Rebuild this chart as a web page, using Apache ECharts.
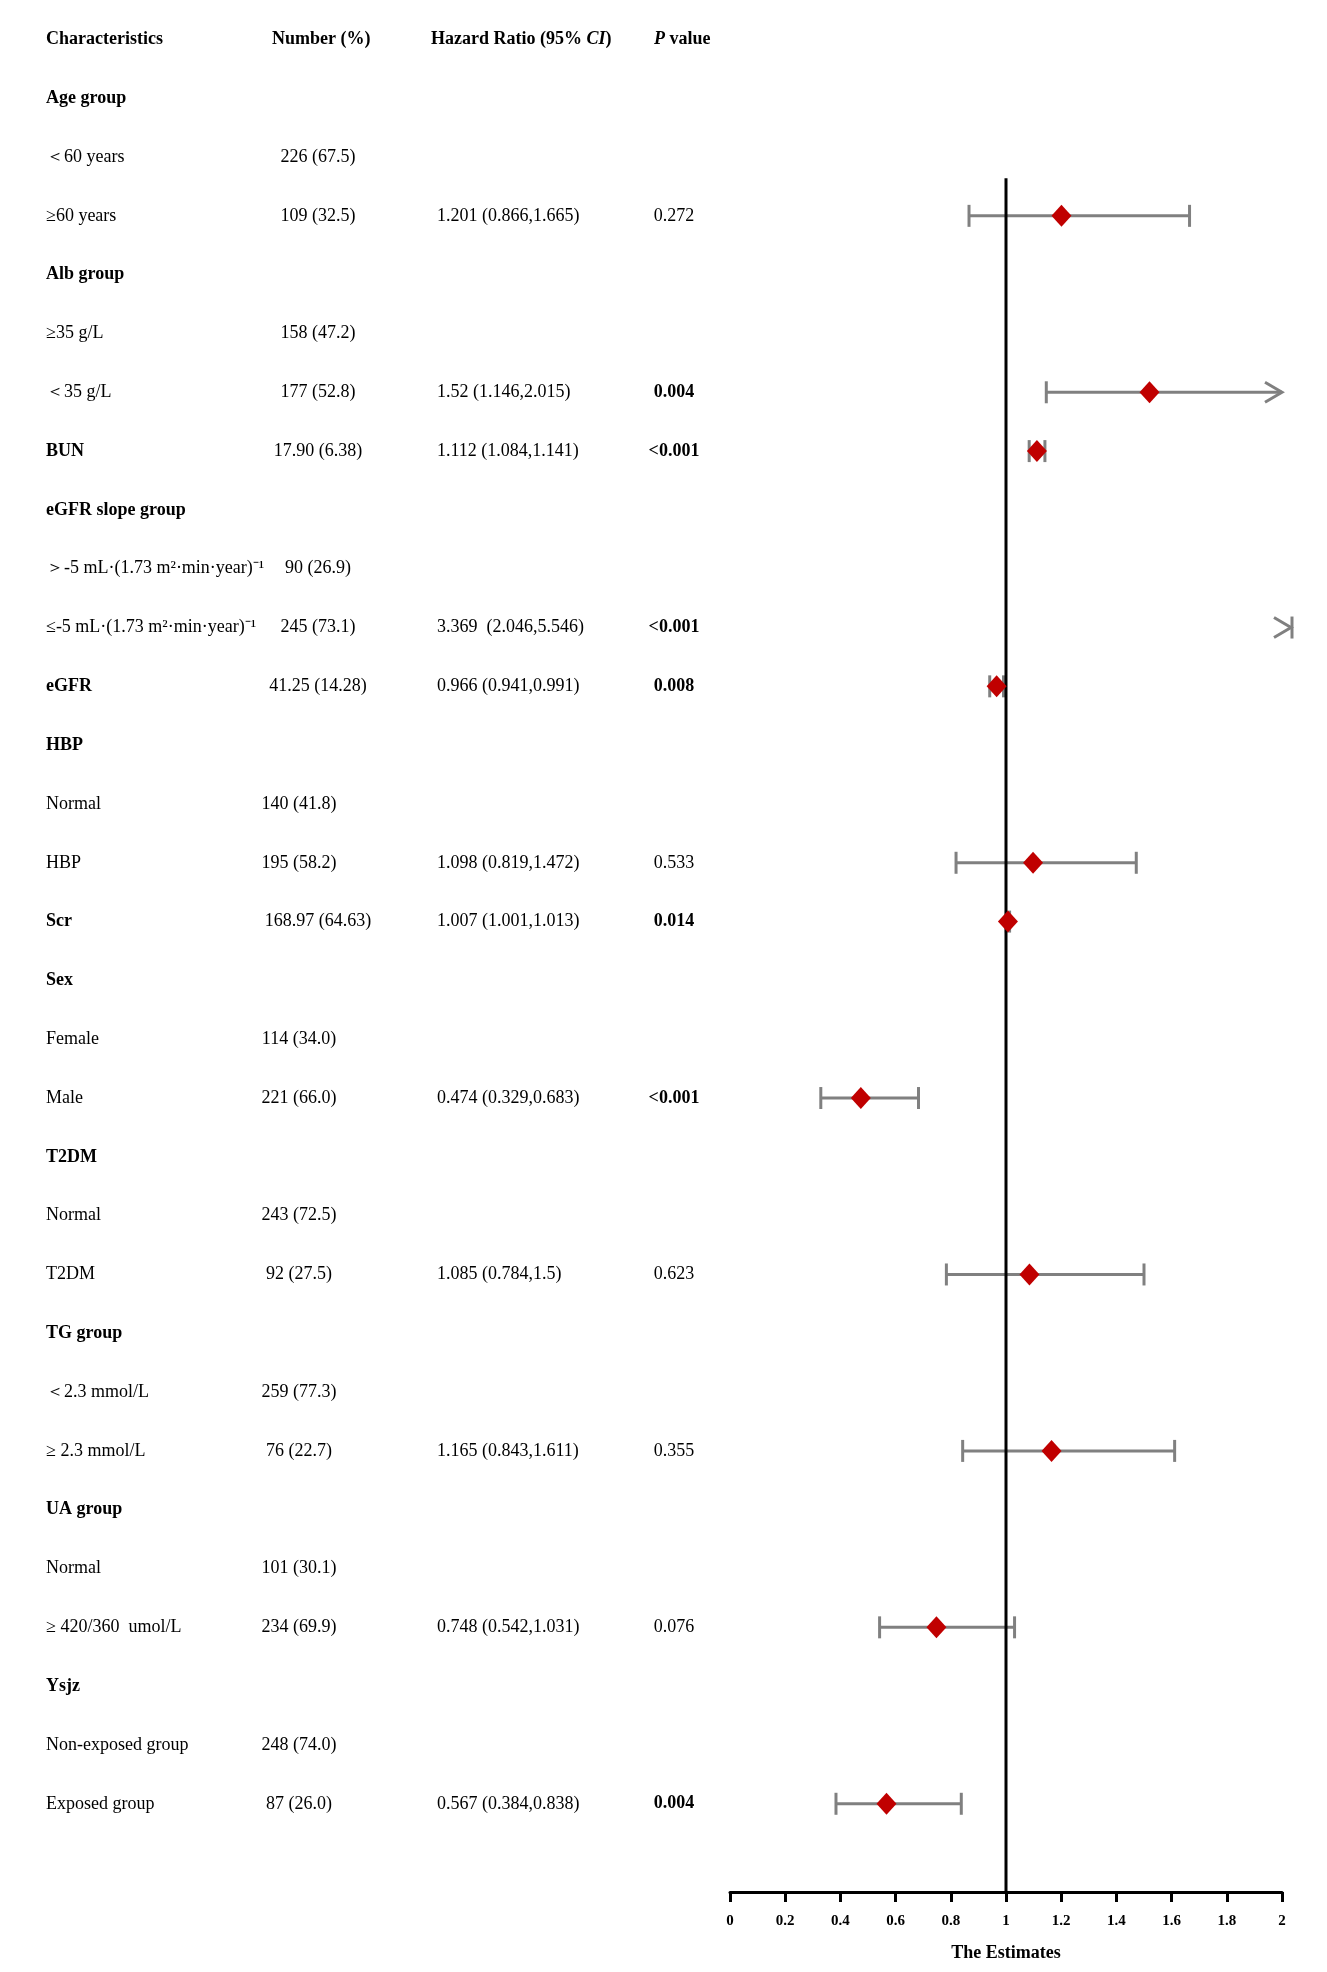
<!DOCTYPE html>
<html>
<head>
<meta charset="utf-8">
<script src="https://cdn.jsdelivr.net/npm/echarts@6/dist/echarts.min.js"></script>
<style>
  html, body { margin: 0; padding: 0; background: #fff; }
  #main { width: 1327px; height: 1972px; }
</style>
</head>
<body>
<div id="main"></div>
<script>
// table rows (header row sits above these)
const rowLabels = [
  'Age group', '＜60 years', '≥60 years',
  'Alb group', '≥35 g/L', '＜35 g/L',
  'BUN',
  'eGFR slope group', '＞-5 mL·(1.73 m²·min·year)⁻¹', '≤-5 mL·(1.73 m²·min·year)⁻¹',
  'eGFR',
  'HBP', 'Normal', 'HBP',
  'Scr',
  'Sex', 'Female', 'Male',
  'T2DM', 'Normal', 'T2DM',
  'TG group', '＜2.3 mmol/L', '≥ 2.3 mmol/L',
  'UA group', 'Normal', '≥ 420/360  umol/L',
  'Ysjz', 'Non-exposed group', 'Exposed group'
];
const groupRows = [1,0,0, 1,0,0, 1, 1,0,0, 1, 1,0,0, 1, 1,0,0, 1,0,0, 1,0,0, 1,0,0, 1,0,0];
const numbers = [
  '', '226 (67.5)', '109 (32.5)',
  '', '158 (47.2)', '177 (52.8)',
  '17.90 (6.38)',
  '', '90 (26.9)', '245 (73.1)',
  '41.25 (14.28)',
  '', '140 (41.8)', '195 (58.2)',
  '168.97 (64.63)',
  '', '114 (34.0)', '221 (66.0)',
  '', '243 (72.5)', '92 (27.5)',
  '', '259 (77.3)', '76 (22.7)',
  '', '101 (30.1)', '234 (69.9)',
  '', '248 (74.0)', '87 (26.0)'
];
const hr = [
  null, null, 1.201, null, null, 1.52, 1.112, null, null, 3.369, 0.966, null, null, 1.098, 1.007,
  null, null, 0.474, null, null, 1.085, null, null, 1.165, null, null, 0.748, null, null, 0.567
];
const ciLow = [
  null, null, 0.866, null, null, 1.146, 1.084, null, null, 2.046, 0.941, null, null, 0.819, 1.001,
  null, null, 0.329, null, null, 0.784, null, null, 0.843, null, null, 0.542, null, null, 0.384
];
const ciHigh = [
  null, null, 1.665, null, null, 2.015, 1.141, null, null, 5.546, 0.991, null, null, 1.472, 1.013,
  null, null, 0.683, null, null, 1.5, null, null, 1.611, null, null, 1.031, null, null, 0.838
];
const pValues = [
  '', '', '0.272', '', '', '0.004', '<0.001', '', '', '<0.001', '0.008', '', '', '0.533', '0.014',
  '', '', '<0.001', '', '', '0.623', '', '', '0.355', '', '', '0.076', '', '', '0.004'
];
const xTicks = { min: 0, max: 2, interval: 0.2 };

const FONT = 'Liberation Serif';
const AXIS_MAX = 2;
const REF_TOP = 2.36;   // where the reference line at 1 starts (row units)

const chart = echarts.init(document.getElementById('main'), null, { renderer: 'canvas' });

function isSignificant(p) {
  return p !== '' && (p.charAt(0) === '<' || parseFloat(p) < 0.05);
}

// one text column, x is pixel position inside the full-width text grid
function textColumn(texts, xOf, align, boldOf) {
  return {
    type: 'custom',
    xAxisIndex: 0,
    yAxisIndex: 0,
    silent: true,
    data: texts.map((t, i) => [xOf(i), i + 1]),
    renderItem: function (params, api) {
      const i = params.dataIndex;
      const p = api.coord([api.value(0), api.value(1)]);
      return {
        type: 'text',
        x: p[0],
        y: p[1],
        style: {
          text: texts[i],
          fill: '#000',
          fontFamily: FONT,
          fontSize: 18,
          fontWeight: boldOf(i) ? 'bold' : 'normal',
          align: align,
          verticalAlign: 'middle'
        }
      };
    }
  };
}

const headerCells = [
  { x: 46, text: 'Characteristics' },
  { x: 272, text: 'Number (%)' },
  { x: 431, text: 'Hazard Ratio (95% {i|CI})' },
  { x: 654, text: '{i|P} value' }
];

const headerSeries = {
  type: 'custom',
  xAxisIndex: 0,
  yAxisIndex: 0,
  silent: true,
  data: headerCells.map(c => [c.x, 0]),
  renderItem: function (params, api) {
    const p = api.coord([api.value(0), api.value(1)]);
    return {
      type: 'text',
      x: p[0],
      y: p[1],
      style: {
        text: headerCells[params.dataIndex].text,
        fill: '#000',
        fontFamily: FONT,
        fontSize: 18,
        fontWeight: 'bold',
        align: 'left',
        verticalAlign: 'middle',
        rich: {
          i: { fontFamily: FONT, fontSize: 18, fontWeight: 'bold', fontStyle: 'italic', fill: '#000' }
        }
      }
    };
  }
};

const hrTexts = hr.map((v, i) => v === null ? '' : v + (i === 9 ? '  (' : ' (') + ciLow[i] + ',' + ciHigh[i] + ')');

const forestRows = [];
const diamonds = [];
hr.forEach((v, i) => {
  if (v === null) return;
  forestRows.push([i + 1, v, ciLow[i], ciHigh[i]]);
  if (v <= AXIS_MAX) diamonds.push([v, i + 1]);
});

const ciSeries = {
  type: 'custom',
  xAxisIndex: 1,
  yAxisIndex: 1,
  silent: true,
  z: 1,
  data: forestRows,
  renderItem: function (params, api) {
    const row = api.value(0), lo = api.value(2), hi = api.value(3);
    const y = api.coord([0, row])[1];
    const pl = api.coord([Math.min(lo, AXIS_MAX), row])[0];
    const ph = api.coord([Math.min(hi, AXIS_MAX), row])[0];
    const st = { stroke: '#808080', lineWidth: 3, fill: null };
    const cap = x => ({ type: 'line', shape: { x1: x, y1: y - 11, x2: x, y2: y + 11 }, style: st });
    const chevron = tip => ({
      type: 'polyline',
      shape: { points: [[tip - 17, y - 10], [tip, y], [tip - 17, y + 10]] },
      style: st
    });
    const children = [];
    if (lo > AXIS_MAX) {
      const xe = ph + 10;
      children.push(chevron(xe - 1), cap(xe));
    } else {
      children.push({ type: 'line', shape: { x1: pl, y1: y, x2: ph, y2: y }, style: st });
      children.push(cap(pl));
      children.push(hi > AXIS_MAX ? chevron(ph) : cap(ph));
    }
    return { type: 'group', children: children };
  }
};

const option = {
  animation: false,
  backgroundColor: '#fff',
  grid: [
    { left: 0, top: 10, width: 1327, height: 1882 },
    { left: 730, top: 10, width: 552, height: 1882 }
  ],
  xAxis: [
    { gridIndex: 0, type: 'value', min: 0, max: 1327, show: false },
    {
      gridIndex: 1,
      type: 'value',
      position: 'bottom',
      min: xTicks.min,
      max: xTicks.max,
      interval: xTicks.interval,
      name: 'The Estimates',
      nameLocation: 'middle',
      nameGap: 52,
      nameTextStyle: { fontFamily: FONT, fontSize: 18, fontWeight: 'bold', color: '#000' },
      axisLine: { show: true, onZero: false, lineStyle: { color: '#000', width: 3 } },
      axisTick: { show: true, length: 10, lineStyle: { color: '#000', width: 3 } },
      axisLabel: { fontFamily: FONT, fontSize: 15, fontWeight: 'bold', color: '#000', margin: 22 },
      splitLine: { show: false }
    }
  ],
  yAxis: [
    { gridIndex: 0, type: 'value', inverse: true, min: -0.5, max: 31.5, show: false },
    { gridIndex: 1, type: 'value', inverse: true, min: -0.5, max: 31.5, show: false }
  ],
  series: [
    headerSeries,
    textColumn(rowLabels, () => 46, 'left', i => groupRows[i] === 1),
    textColumn(numbers, i => (i <= 10 || i === 14) ? 318 : 299, 'center', () => false),
    textColumn(hrTexts, () => 437, 'left', () => false),
    textColumn(pValues, () => 674, 'center', i => isSignificant(pValues[i])),
    ciSeries,
    {
      type: 'line',
      xAxisIndex: 1,
      yAxisIndex: 1,
      silent: true,
      z: 2,
      symbol: 'none',
      clip: false,
      lineStyle: { color: '#000', width: 3 },
      data: [[1, REF_TOP], [1, 31.5]]
    },
    {
      type: 'scatter',
      xAxisIndex: 1,
      yAxisIndex: 1,
      silent: true,
      z: 3,
      symbol: 'diamond',
      symbolSize: [20, 22],
      itemStyle: { color: '#C00000', opacity: 1 },
      data: diamonds
    }
  ]
};

chart.setOption(option);
</script>
</body>
</html>
